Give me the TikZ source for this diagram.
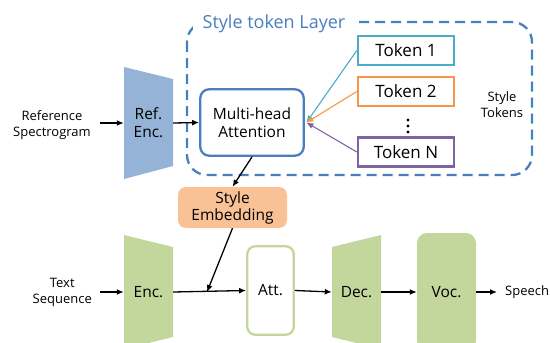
\documentclass[tikz,border=0pt]{standalone}
\usepackage{fontspec}
\setmainfont{Open Sans}
\usetikzlibrary{arrows.meta}
\definecolor{lblue}{HTML}{4A7EC0}
\definecolor{refblue}{HTML}{95B3D7}
\definecolor{tcyan}{HTML}{4BACC6}
\definecolor{torange}{HTML}{F79646}
\definecolor{tpurple}{HTML}{8064A2}
\definecolor{sefill}{HTML}{F9C196}
\definecolor{gfill}{HTML}{C3D69B}
\tikzset{
  arr/.style={-{Latex[length=7pt,width=6pt]}, line width=1.3pt},
  carr/.style={-{Latex[length=7pt,width=6pt]}, line width=1.1pt},
  small/.style={font=\fontsize{13}{16}\selectfont, align=center},
  tok/.style={draw, line width=2.3pt, fill=white, minimum width=96pt, minimum height=29pt, inner sep=0pt, font=\fontsize{17}{20}\selectfont},
  ghost/.style={inner sep=0pt, align=center, font=\fontsize{15.5}{18}\selectfont}
}
\begin{document}
\begin{tikzpicture}[x=1pt,y=-1pt]
\useasboundingbox (0,0) rectangle (550,343);
\clip (0,0) rectangle (550,343);
% style token layer frame
\draw[lblue, line width=2.3pt, dash pattern=on 10pt off 6pt, rounded corners=20pt] (187,22) rectangle (532,175);
\node[fill=white, text=lblue, font=\fontsize{18}{20}\selectfont, anchor=base, inner xsep=10pt] (title) at (274,28.5) {Style token Layer};
% reference encoder
\fill[refblue] (124,67) -- (173,79) -- (173,166) -- (124,179) -- cycle;
\node[ghost, minimum width=49pt, minimum height=112pt] (refenc) at (148.5,123) {Ref.\\Enc.};
\node[small, anchor=east, inner xsep=9pt] (spec) at (100,125) {Reference\\Spectrogram};
% multi-head attention
\node[draw=lblue, line width=2.3pt, rounded corners=9pt, minimum width=103.5pt, minimum height=66.5pt, align=center, font=\fontsize{15.5}{18}\selectfont, inner sep=0pt] (mha) at (252,122.5) {Multi-head\\Attention};
% tokens
\node[tok, draw=tcyan] (t1) at (406,50.5) {Token 1};
\node[tok, draw=torange] (t2) at (406,91.5) {Token 2};
\node[tok, draw=tpurple] (tn) at (406,152) {Token N};
\fill (408,120) circle (1.6pt) (408,126) circle (1.6pt) (408,132) circle (1.6pt);
\node[small] (stok) at (502,105) {Style\\Tokens};
% style embedding
\node[fill=sefill, rounded corners=8pt, minimum width=109pt, minimum height=41pt, align=center, font=\fontsize{15.5}{17}\selectfont, inner sep=0pt] (se) at (232.5,207.5) {Style\\Embedding};
% bottom row
\fill[gfill] (124,235) -- (173,247) -- (173,337) -- (124,349) -- cycle;
\node[ghost, minimum width=49pt, minimum height=114pt] (enc) at (148.5,292) {Enc.};
\node[small, anchor=east, inner xsep=8pt] (txt) at (100,292) {Text\\Sequence};
\node[draw=gfill, line width=2.3pt, fill=white, rounded corners=8pt, minimum width=46.5pt, minimum height=88.5pt, font=\fontsize{15.5}{18}\selectfont, inner sep=0pt] (att) at (270.5,290.5) {Att.};
\fill[gfill] (332,247) -- (381,235) -- (381,349) -- (332,337) -- cycle;
\node[ghost, minimum width=49pt, minimum height=114pt] (dec) at (356.5,292) {Dec.};
\node[fill=gfill, rounded corners=10pt, minimum width=59pt, minimum height=118pt, font=\fontsize{15.5}{18}\selectfont, inner sep=0pt] (voc) at (446.5,292) {Voc.};
\node[small, anchor=west, inner xsep=8pt] (speech) at (497,292) {Speech};
\coordinate (j) at (207,292);
% connectors
\draw[arr] (spec.east |- refenc) -- (refenc.west);
\draw[arr] (refenc.east) -- (mha.west);
\draw[carr, tcyan] (t1.west) -- ([xshift=1.5pt]mha.east);
\draw[carr, torange] (t2.west) -- ([xshift=1.5pt]mha.east);
\draw[carr, tpurple] (tn.west) -- ([xshift=1.5pt]mha.east);
\draw[arr] (mha.south) -- (se.north);
\draw[arr] (se.south) -- (j);
\draw[arr] (txt.east) -- (enc.west);
\draw[arr] (enc.east) -- (att.west);
\draw[arr] (att.east) -- (dec.west);
\draw[arr] (dec.east) -- (voc.west);
\draw[arr] (voc.east) -- (speech.west);
\end{tikzpicture}
\end{document}
